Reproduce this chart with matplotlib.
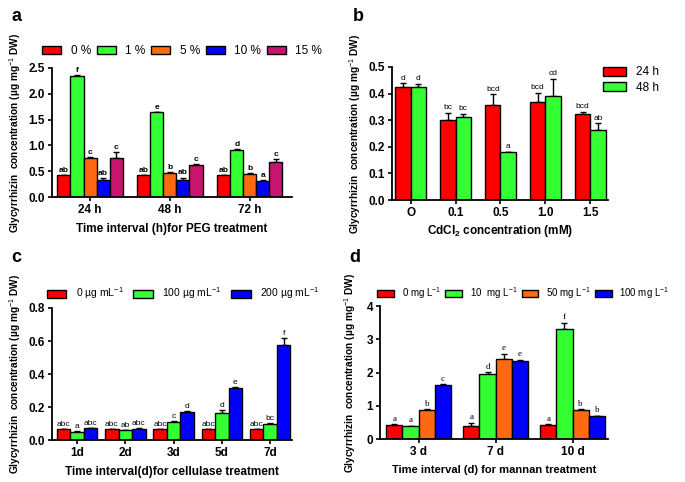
import matplotlib.pyplot as plt
from matplotlib.patches import Rectangle
import numpy as np

plt.rcParams['font.family'] = ['Liberation Sans', 'DejaVu Sans']
plt.rcParams['mathtext.fontset'] = 'custom'
plt.rcParams['mathtext.rm'] = 'Liberation Sans'
plt.rcParams['mathtext.bf'] = 'Liberation Sans:bold'

RED = '#ff0000'
GREEN = '#33ff33'
ORANGE = '#ff6a10'
BLUE = '#0000ff'
PINK = '#c8146e'

# ---- panel a : PEG ----
a_groups = ['24 h', '48 h', '72 h']
a_series = ['0 %', '1 %', '5 %', '10 %', '15 %']
a_vals = [[0.42, 0.42, 0.42],
          [2.35, 1.64, 0.92],
          [0.75, 0.47, 0.45],
          [0.34, 0.34, 0.31],
          [0.75, 0.62, 0.68]]
a_errs = [[0.005, 0.005, 0.005],
          [0.01, 0.01, 0.02],
          [0.02, 0.01, 0.01],
          [0.03, 0.04, 0.02],
          [0.13, 0.02, 0.05]]
a_letters = [['ab', 'ab', 'ab'],
             ['f', 'e', 'd'],
             ['c', 'b', 'b'],
             ['ab', 'ab', 'a'],
             ['c', 'c', 'c']]

# ---- panel b : CdCl2 ----
b_groups = ['O', '0.1', '0.5', '1.0', '1.5']
b_series = ['24 h', '48 h']
b_vals = [[0.425, 0.300, 0.358, 0.370, 0.325],
          [0.423, 0.312, 0.180, 0.390, 0.265]]
b_errs = [[0.013, 0.028, 0.040, 0.033, 0.007],
          [0.013, 0.013, 0.002, 0.065, 0.024]]
b_letters = [['d', 'bc', 'bcd', 'bcd', 'bcd'],
             ['d', 'bc', 'a', 'cd', 'ab']]

# ---- panel c : cellulase ----
c_groups = ['1d', '2d', '3d', '5d', '7d']
c_series = ['0 µg mL$^{-1}$', '100 µg mL$^{-1}$', '200 µg mL$^{-1}$']
c_vals = [[0.065, 0.065, 0.065, 0.065, 0.065],
          [0.050, 0.060, 0.110, 0.165, 0.100],
          [0.072, 0.070, 0.170, 0.318, 0.575]]
c_errs = [[0.002, 0.002, 0.002, 0.002, 0.002],
          [0.003, 0.002, 0.007, 0.020, 0.006],
          [0.002, 0.002, 0.004, 0.003, 0.045]]
c_letters = [['abc', 'abc', 'abc', 'abc', 'abc'],
             ['a', 'ab', 'c', 'd', 'bc'],
             ['abc', 'abc', 'd', 'e', 'f']]

# ---- panel d : mannan ----
d_groups = ['3 d', '7 d', '10 d']
d_series = ['0 mg L$^{-1}$', '10  mg L$^{-1}$', '50 mg L$^{-1}$', '100 mg L$^{-1}$']
d_vals = [[0.43, 0.40, 0.42],
          [0.38, 1.96, 3.32],
          [0.88, 2.42, 0.87],
          [1.63, 2.35, 0.68]]
d_errs = [[0.01, 0.08, 0.02],
          [0.01, 0.05, 0.18],
          [0.02, 0.15, 0.03],
          [0.02, 0.03, 0.01]]
d_letters = [['a', 'a', 'a'],
             ['a', 'd', 'f'],
             ['b', 'e', 'b'],
             ['c', 'e', 'b']]

YLABEL = 'Glycyrrhizin  concentration (µg mg$^{-1}$ DW)'


def grouped(ax, groups, vals, errs, letters, colors, width, lfs, lweight='normal',
            lfamily=None, lpad=0.0):
    n = len(vals)
    x = np.arange(len(groups))
    for i in range(n):
        pos = x + (i - (n - 1) / 2) * width
        ax.bar(pos, vals[i], width, color=colors[i], edgecolor='black', linewidth=1.0,
               zorder=2)
        ax.errorbar(pos, vals[i], yerr=[np.zeros(len(groups)), errs[i]], fmt='none',
                    ecolor='black', elinewidth=1.0, capsize=2.5, capthick=1.0, zorder=1)
        for p, v, e, t in zip(pos, vals[i], errs[i], letters[i]):
            kw = dict(ha='center', va='bottom', fontsize=lfs, fontweight=lweight)
            if lfamily:
                kw['family'] = lfamily
            ax.text(p, v + e + lpad, t, **kw)
    ax.set_xticks(x)
    ax.set_xticklabels(groups, fontweight='bold', fontsize=8.5)
    return x


def style(ax):
    for s in ['top', 'right']:
        ax.spines[s].set_visible(False)
    for s in ['left', 'bottom']:
        ax.spines[s].set_linewidth(1.3)
    ax.tick_params(axis='both', direction='out', width=1.2, length=3, pad=2)
    for lab in ax.get_yticklabels():
        lab.set_fontweight('bold')
        lab.set_fontsize(8.5)


def handles(colors):
    return [Rectangle((0, 0), 1, 1, facecolor=c, edgecolor='black', linewidth=1.0)
            for c in colors]


fig = plt.figure(figsize=(6.85, 4.82), dpi=100)

# panel a
axa = fig.add_axes([0.076, 0.591, 0.350, 0.268])
cols_a = [RED, GREEN, ORANGE, BLUE, PINK]
grouped(axa, a_groups, a_vals, a_errs, a_letters, cols_a, 0.163, 6, 'bold', lpad=0.02)
axa.set_xlim(-0.475, 2.525)
axa.set_ylim(0, 2.5)
axa.set_yticks([0, 0.5, 1.0, 1.5, 2.0, 2.5])
axa.set_yticklabels(['0.0', '0.5', '1.0', '1.5', '2.0', '2.5'])
style(axa)
axa.set_xlabel('Time interval (h)for PEG treatment', fontweight='bold', fontsize=8.5, labelpad=5)
axa.set_ylabel(YLABEL, fontweight='bold', fontsize=7.3, labelpad=4)
axa.legend(handles(cols_a), a_series, ncol=5, frameon=False, loc='center left',
           bbox_to_anchor=(-0.06, 1.13), fontsize=8.5, handlelength=1.6, handleheight=0.6,
           columnspacing=0.5, handletextpad=0.8, borderaxespad=0)

# panel b
axb = fig.add_axes([0.572, 0.585, 0.316, 0.276])
cols_b = [RED, GREEN]
grouped(axb, b_groups, b_vals, b_errs, b_letters, cols_b, 0.34, 6, lpad=0.006)
axb.set_xlim(-0.42, 4.4)
axb.set_ylim(0, 0.5)
axb.set_yticks([0, 0.1, 0.2, 0.3, 0.4, 0.5])
axb.set_yticklabels(['0.0', '0.1', '0.2', '0.3', '0.4', '0.5'])
style(axb)
axb.set_xlabel(r'CdCl$_\mathbf{2}$ concentration (mM)', fontweight='bold', fontsize=8.5, labelpad=3)
axb.set_ylabel(YLABEL, fontweight='bold', fontsize=7.3, labelpad=4)
axb.legend(handles(cols_b), b_series, ncol=1, frameon=False, loc='upper left',
           bbox_to_anchor=(0.955, 1.04), fontsize=8.5, handlelength=1.9, handleheight=0.8,
           handletextpad=0.9, labelspacing=0.3, borderaxespad=0)

# panel c
axc = fig.add_axes([0.076, 0.087, 0.350, 0.274])
cols_c = [RED, GREEN, BLUE]
grouped(axc, c_groups, c_vals, c_errs, c_letters, cols_c, 0.28, 6, lpad=0.006)
axc.set_xlim(-0.52, 4.45)
axc.set_ylim(0, 0.8)
axc.set_yticks([0, 0.2, 0.4, 0.6, 0.8])
axc.set_yticklabels(['0.0', '0.2', '0.4', '0.6', '0.8'])
style(axc)
axc.set_xlabel('Time interval(d)for cellulase treatment', fontweight='bold', fontsize=8.5, labelpad=5)
axc.set_ylabel(YLABEL, fontweight='bold', fontsize=7.3, labelpad=4)
axc.legend(handles(cols_c), c_series, ncol=3, frameon=False, loc='center left',
           bbox_to_anchor=(-0.04, 1.11), fontsize=7.5, handlelength=1.9, handleheight=0.8,
           columnspacing=0.9, handletextpad=0.9, borderaxespad=0)

# panel d
axd = fig.add_axes([0.555, 0.089, 0.332, 0.276])
cols_d = [RED, GREEN, ORANGE, BLUE]
grouped(axd, d_groups, d_vals, d_errs, d_letters, cols_d, 0.21, 6.5,
        lfamily='Liberation Serif', lpad=0.05)
axd.set_xlim(-0.5, 2.455)
axd.set_ylim(0, 4)
axd.set_yticks([0, 1, 2, 3, 4])
style(axd)
axd.set_xlabel('Time interval (d) for mannan treatment', fontweight='bold', fontsize=8, labelpad=5)
axd.set_ylabel(YLABEL, fontweight='bold', fontsize=7.3, labelpad=6)
axd.legend(handles(cols_d), d_series, ncol=4, frameon=False, loc='center left',
           bbox_to_anchor=(-0.03, 1.10), fontsize=7, handlelength=1.7, handleheight=0.8,
           columnspacing=0.45, handletextpad=0.8, borderaxespad=0)

# panel letters
for lbl, (x, y) in zip('abcd', [(0.017, 0.965), (0.515, 0.965), (0.017, 0.465), (0.51, 0.465)]):
    fig.text(x, y, lbl, fontsize=13, fontweight='bold', ha='left', va='center')

fig.savefig('out.png', dpi=100)
